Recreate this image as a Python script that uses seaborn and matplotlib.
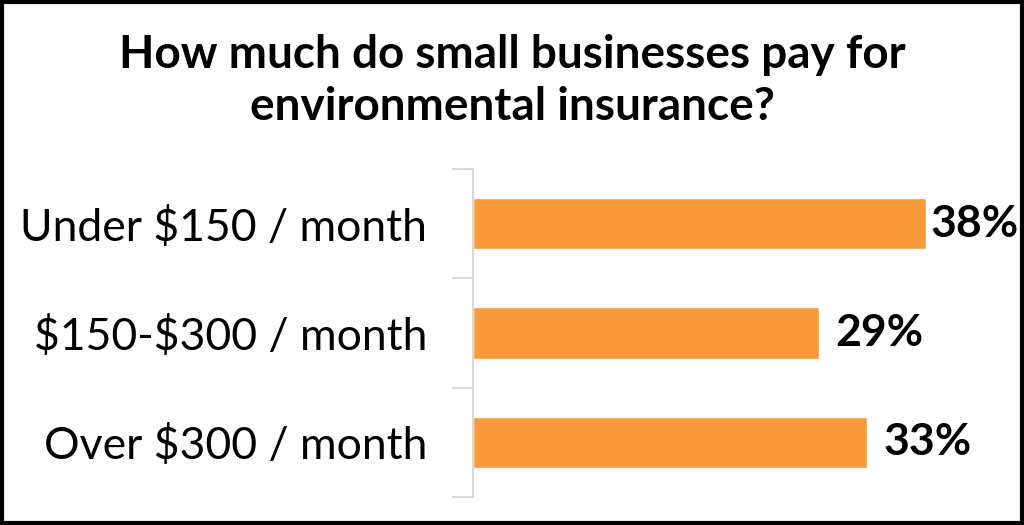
import seaborn as sns
import matplotlib.pyplot as plt
import pandas as pd
from matplotlib.ticker import FixedLocator
from matplotlib.patches import Rectangle

categories = ['Under $150 / month', '$150-$300 / month', 'Over $300 / month']
shares = [38, 29, 33]
value_labels = ['38%', '29%', '33%']

df = pd.DataFrame({'category': categories, 'share': shares})

sns.set_style('white')
plt.rcParams['font.family'] = ['Lato', 'DejaVu Sans']
plt.rcParams['text.color'] = 'black'
plt.rcParams['ytick.labelcolor'] = 'black'

fig = plt.figure(figsize=(10.24, 5.25), dpi=100)
ax = fig.add_axes([0.462, 0.053, 0.466, 0.625])

sns.barplot(data=df, x='share', y='category', color='#F99B3D', width=0.47,
            saturation=1, ax=ax)

ax.set_xlim(0, 40)
ax.set_ylim(2.5, -0.5)
ax.set_xlabel('')
ax.set_ylabel('')
ax.set_xticks([])
ax.set_yticks(range(len(categories)))
ax.set_yticklabels([c.replace('$', r'\$') for c in categories])
for s in ['top', 'right', 'bottom']:
    ax.spines[s].set_visible(False)
ax.spines['left'].set_color('#D9D9D9')
ax.spines['left'].set_linewidth(1.5)
ax.tick_params(axis='y', which='major', length=0, labelsize=32, pad=33)
ax.yaxis.set_minor_locator(FixedLocator([-0.5, 0.5, 1.5, 2.5]))
ax.tick_params(axis='y', which='minor', length=15, width=1.5, color='#D9D9D9', left=True)

# labels sit a bit right of the bar, but the longest one is squeezed by the frame
for i, v in enumerate(shares):
    ax.text(min(v + 1.4, 38.3), i, value_labels[i], va='center', ha='left',
            fontsize=32, fontweight='bold', color='black')

fig.text(0.5, 0.845, 'How much do small businesses pay for\nenvironmental insurance?',
         ha='center', va='center', fontsize=33, fontweight='bold', linespacing=1.3,
         color='black')

fig.patches.append(Rectangle((0.0015, 0.003), 0.997, 0.994, transform=fig.transFigure,
                             fill=False, edgecolor='black', linewidth=3))

fig.savefig('out.png', dpi=100)
